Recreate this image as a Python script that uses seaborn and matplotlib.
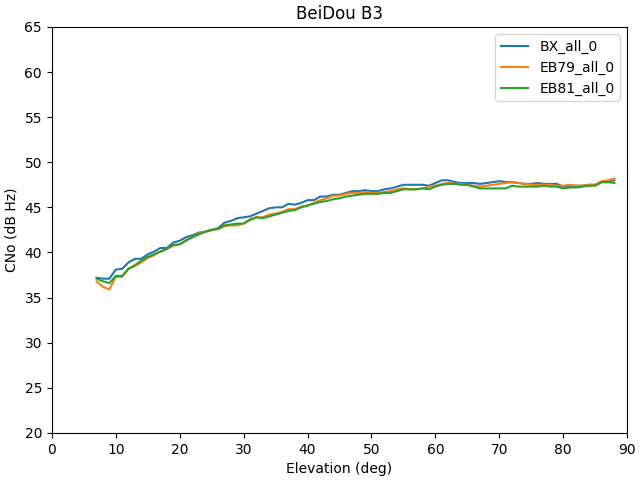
import matplotlib

matplotlib.use("Agg")
import matplotlib.pyplot as plt
import pandas as pd
import seaborn as sns

# elevation bins (deg)
elevation = list(range(7, 89))

# mean CNo per elevation
bx_all_0 = [
    37.2, 37.1, 37.1, 38.1, 38.2, 38.9, 39.3, 39.3, 39.8, 40.1,
    40.5, 40.5, 41.1, 41.3, 41.7, 41.9, 42.2, 42.3, 42.5, 42.7,
    43.3, 43.5, 43.8, 43.9, 44.0, 44.3, 44.6, 44.9, 45.0, 45.0,
    45.4, 45.3, 45.5, 45.8, 45.8, 46.2, 46.2, 46.4, 46.4, 46.6,
    46.8, 46.8, 46.9, 46.8, 46.8, 47.0, 47.1, 47.3, 47.5, 47.5,
    47.5, 47.5, 47.4, 47.7, 48.0, 48.0, 47.8, 47.7, 47.7, 47.7,
    47.6, 47.7, 47.8, 47.9, 47.8, 47.8, 47.7, 47.6, 47.6, 47.7,
    47.6, 47.6, 47.6, 47.3, 47.3, 47.4, 47.4, 47.5, 47.5, 47.8,
    47.9, 48.0,
]
eb79_all_0 = [
    36.8, 36.2, 35.9, 37.3, 37.3, 38.2, 38.5, 38.9, 39.4, 39.7,
    40.1, 40.4, 40.8, 40.9, 41.4, 41.7, 42.1, 42.3, 42.5, 42.6,
    42.9, 43.0, 43.0, 43.2, 43.7, 43.9, 43.9, 44.2, 44.3, 44.5,
    44.8, 44.8, 45.1, 45.2, 45.5, 45.8, 46.0, 46.3, 46.3, 46.5,
    46.6, 46.6, 46.7, 46.6, 46.6, 46.7, 46.8, 47.0, 47.1, 47.0,
    47.0, 47.1, 47.3, 47.4, 47.6, 47.7, 47.6, 47.6, 47.5, 47.4,
    47.3, 47.4, 47.5, 47.6, 47.7, 47.8, 47.7, 47.6, 47.5, 47.5,
    47.5, 47.5, 47.4, 47.4, 47.5, 47.4, 47.4, 47.5, 47.5, 47.9,
    48.0, 48.2,
]
eb81_all_0 = [
    37.1, 36.8, 36.6, 37.4, 37.4, 38.2, 38.6, 39.1, 39.5, 39.8,
    40.1, 40.4, 40.8, 40.9, 41.3, 41.7, 42.0, 42.3, 42.5, 42.6,
    43.0, 43.1, 43.2, 43.2, 43.6, 43.9, 43.8, 44.0, 44.2, 44.4,
    44.6, 44.7, 45.0, 45.2, 45.4, 45.6, 45.7, 45.9, 46.0, 46.2,
    46.3, 46.4, 46.5, 46.5, 46.5, 46.6, 46.6, 46.8, 47.0, 47.0,
    47.0, 47.1, 47.0, 47.3, 47.5, 47.6, 47.6, 47.5, 47.5, 47.3,
    47.1, 47.1, 47.1, 47.1, 47.1, 47.4, 47.3, 47.3, 47.3, 47.3,
    47.4, 47.3, 47.3, 47.1, 47.2, 47.2, 47.3, 47.4, 47.4, 47.8,
    47.8, 47.7,
]

df = pd.DataFrame(
    {
        "elevation": elevation * 3,
        "cno": bx_all_0 + eb79_all_0 + eb81_all_0,
        "receiver": ["BX_all_0"] * len(elevation)
        + ["EB79_all_0"] * len(elevation)
        + ["EB81_all_0"] * len(elevation),
    }
)

fig, ax = plt.subplots(figsize=(6.4, 4.8), dpi=100)
sns.lineplot(data=df, x="elevation", y="cno", hue="receiver", ax=ax)
ax.set_xlim(0, 90)
ax.set_ylim(20, 65)
ax.set_title("BeiDou B3")
ax.set_xlabel("Elevation (deg)")
ax.set_ylabel("CNo (dB Hz)")
ax.legend(loc="upper right")
fig.subplots_adjust(left=0.081, right=0.98, top=0.944, bottom=0.098)
fig.savefig("out.png")
